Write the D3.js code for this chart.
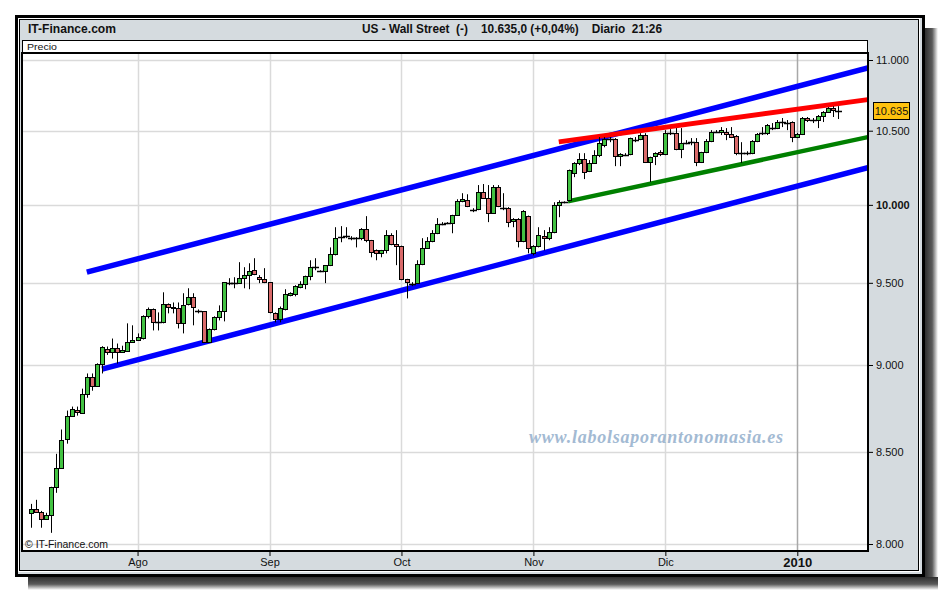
<!DOCTYPE html>
<html><head><meta charset="utf-8">
<script src="https://cdn.jsdelivr.net/npm/d3@7"></script>
<style>body{margin:0;background:#fff} svg{display:block}</style>
</head><body><svg id="c" width="940" height="590"></svg>
<script>
// ---- data ----
const opens  = [8166,8187,8171,8134,8155,8307,8412,8574,8705,8740,8723,8832,8932,8879,9008,9097,9079,9103,9079,9085,
  9140,9152,9159,9293,9335,9256,9256,9366,9353,9341,9250,9366,9410,9323,9323,9140,9213,9286,9323,9504,
  9504,9498,9529,9548,9579,9535,9523,9504,9311,9274,9335,9422,9428,9473,9491,9541,9598,9573,9573,9611,
  9680,9790,9796,9783,9786,9783,9841,9770,9705,9686,9705,9803,9744,9731,9523,9491,9498,9617,9718,9764,
  9815,9874,9880,9880,9933,10023,10030,9965,9971,10084,10044,9946,10117,9978,9978,9893,9906,9764,9926,9686,
  9731,9796,9783,9822,9998,10017,10030,10211,10279,10306,10225,10279,10332,10400,10442,10442,10326,10332,10339,10435,
  10442,10470,10285,10326,10352,10339,10484,10484,10373,10414,10421,10421,10285,10352,10428,10490,10490,10490,10477,10463,
  10346,10346,10346,10428,10484,10484,10518,10518,10560,10560,10560,10456,10477,10588,10574,10574,10602,10630,10657,10643];
const highs  = [8214,8236,8176,8166,8307,8489,8626,8734,8757,8757,8861,8950,8950,9010,9112,9110,9158,9128,9115,9250,
  9238,9189,9299,9347,9341,9317,9441,9372,9378,9378,9435,9466,9435,9335,9325,9219,9293,9360,9505,9529,
  9535,9630,9598,9623,9655,9548,9592,9505,9317,9353,9460,9441,9485,9510,9545,9642,9655,9579,9612,9724,
  9854,9861,9854,9796,9790,9848,9926,9772,9711,9708,9835,9815,9835,9735,9525,9504,9642,9783,9790,9835,
  9913,9887,9887,9935,10037,10077,10070,9978,10131,10138,10131,10131,10131,10077,9985,9913,9913,9965,9930,9738,
  9854,9835,9854,10017,10030,10023,10235,10285,10346,10346,10299,10366,10456,10456,10456,10449,10346,10346,10452,10456,
  10483,10483,10322,10352,10366,10504,10511,10518,10518,10435,10449,10449,10355,10442,10504,10504,10525,10518,10525,10470,
  10421,10359,10435,10484,10525,10546,10553,10574,10588,10574,10565,10484,10595,10595,10588,10609,10636,10664,10671,10671];
const lows   = [8086,8166,8086,8129,8059,8274,8410,8546,8700,8705,8720,8808,8849,8875,8950,9060,9038,9008,9073,9080,
  9134,9146,9152,9280,9207,9207,9250,9311,9311,9219,9189,9360,9238,9311,9135,9134,9207,9268,9262,9485,
  9466,9495,9466,9460,9548,9498,9498,9311,9256,9256,9329,9416,9416,9466,9460,9516,9579,9567,9498,9605,
  9673,9757,9783,9770,9724,9770,9757,9661,9642,9661,9686,9738,9611,9516,9403,9479,9495,9611,9715,9757,
  9809,9867,9874,9815,9930,10017,9985,9952,9965,10040,9887,9940,9985,9965,9854,9854,9724,9757,9686,9673,
  9724,9705,9770,9815,9919,10010,10023,10184,10265,10171,10218,10275,10319,10386,10421,10258,10258,10326,10332,10421,
  10435,10279,10151,10265,10326,10332,10470,10366,10312,10407,10400,10258,10279,10346,10421,10484,10470,10435,10449,10332,
  10279,10332,10339,10421,10470,10470,10504,10511,10525,10504,10421,10449,10470,10560,10553,10518,10560,10623,10595,10581];
const closes = [8187,8171,8134,8155,8307,8412,8569,8705,8745,8728,8832,8932,8879,9008,9110,9079,9103,9079,9091,9140,
  9152,9165,9293,9335,9256,9256,9366,9353,9341,9250,9360,9410,9347,9323,9140,9213,9286,9323,9504,9498,
  9498,9529,9548,9573,9554,9523,9504,9317,9274,9341,9428,9435,9479,9491,9541,9598,9598,9573,9611,9680,
  9783,9790,9796,9783,9780,9841,9770,9692,9686,9705,9803,9744,9731,9523,9504,9491,9617,9718,9764,9815,
  9874,9880,9880,9933,10023,10037,9991,9965,10084,10044,9946,10117,9991,9978,9887,9906,9764,9958,9718,9731,
  9803,9783,9822,9998,10017,10017,10232,10279,10306,10218,10279,10332,10414,10442,10442,10326,10339,10339,10449,10435,
  10470,10285,10319,10346,10339,10484,10484,10373,10414,10421,10421,10285,10352,10428,10490,10490,10504,10477,10456,10346,
  10346,10346,10428,10477,10484,10539,10518,10560,10560,10553,10456,10477,10588,10574,10574,10602,10630,10657,10643,10635];
const yTicks = [8000, 8500, 9000, 9500, 10000, 10500, 11000];
const monthIdx = [21, 47, 73, 99, 125, 151];
const monthLabels = ["Ago", "Sep", "Oct", "Nov", "Dic", "2010"];
const upperChannel = [[11.0, 9567], [164.9, 10942]];
const lowerChannel = [[14.0, 8976], [164.9, 10248]];
const resistance   = [[104.0, 10423], [164.9, 10717]];
const support      = [[105.8, 10023], [164.9, 10456]];
const lastPrice = 10635;
const headerLeft = "IT-Finance.com";
const headerTitle = "US - Wall Street  (-)    10.635,0 (+0,04%)    Diario  21:26";

// ---- drawing ----
const svg = d3.select("#c");
const P = {l: 22, r: 868, t: 53, b: 551};
const x = d3.scaleLinear().domain([-1.77, 164.93]).range([P.l, P.r]);
const y = d3.scaleLog().domain([8000, 11000]).range([544, 60]);
const loc = d3.formatLocale({decimal: ",", thousands: ".", grouping: [3], currency: ["", ""]});
const fmt = loc.format(",.0f");
const sans = "'Liberation Sans',Arial,sans-serif";

const defs = svg.append("defs");
const gr = defs.append("linearGradient").attr("id", "shR").attr("x1", 0).attr("x2", 1).attr("y1", 0).attr("y2", 0);
gr.append("stop").attr("offset", 0).attr("stop-color", "#2e2e2e");
gr.append("stop").attr("offset", 0.55).attr("stop-color", "#5a5a5a");
gr.append("stop").attr("offset", 1).attr("stop-color", "#ffffff");
const gb = defs.append("linearGradient").attr("id", "shB").attr("x1", 0).attr("x2", 0).attr("y1", 0).attr("y2", 1);
gb.append("stop").attr("offset", 0).attr("stop-color", "#2e2e2e");
gb.append("stop").attr("offset", 0.55).attr("stop-color", "#5a5a5a");
gb.append("stop").attr("offset", 1).attr("stop-color", "#ffffff");
defs.append("clipPath").attr("id", "clip").append("rect")
  .attr("x", P.l).attr("y", P.t).attr("width", P.r - P.l).attr("height", P.b - P.t);

// shadow
svg.append("rect").attr("x", 925).attr("y", 28).attr("width", 13).attr("height", 562).attr("fill", "url(#shR)");
svg.append("rect").attr("x", 28).attr("y", 577).attr("width", 910).attr("height", 13).attr("fill", "url(#shB)");
// panel
svg.append("rect").attr("x", 16.5).attr("y", 16.5).attr("width", 907).attr("height", 559)
  .attr("fill", "#d5dbdf").attr("stroke", "#000").attr("stroke-width", 3);
svg.append("rect").attr("x", 18.5).attr("y", 18.5).attr("width", 901).attr("height", 553)
  .attr("fill", "none").attr("stroke", "#fff").attr("stroke-width", 1);
svg.append("rect").attr("x", 19.5).attr("y", 19.5).attr("width", 899).attr("height", 551)
  .attr("fill", "none").attr("stroke", "#000").attr("stroke-width", 1);

// header (condensed to match the narrow face of the original)
svg.append("text").attr("x", 28).attr("y", 33).attr("font-family", sans).attr("font-size", 13)
  .attr("font-weight", "bold").attr("fill", "#111")
  .attr("textLength", 88).attr("lengthAdjust", "spacingAndGlyphs").text(headerLeft);
svg.append("text").attr("x", 362).attr("y", 33).attr("font-family", sans).attr("font-size", 13)
  .attr("font-weight", "bold").attr("fill", "#111").attr("xml:space", "preserve")
  .style("white-space", "pre").attr("textLength", 300).attr("lengthAdjust", "spacingAndGlyphs").text(headerTitle);

// Precio band
svg.append("rect").attr("x", 22.5).attr("y", 40.5).attr("width", 845).attr("height", 12)
  .attr("fill", "#fff").attr("stroke", "#000");
svg.append("text").attr("x", 27).attr("y", 50).attr("font-family", sans).attr("font-size", 9.5)
  .attr("fill", "#111").attr("textLength", 30).attr("lengthAdjust", "spacingAndGlyphs").text("Precio");

// plot bg
svg.append("rect").attr("x", P.l).attr("y", P.t).attr("width", P.r - P.l).attr("height", P.b - P.t).attr("fill", "#fff");

// grid
const grid = svg.append("g").attr("clip-path", "url(#clip)");
grid.selectAll("line.h").data(yTicks).join("line")
  .attr("x1", P.l).attr("x2", P.r).attr("y1", d => Math.round(y(d)) + 0.5).attr("y2", d => Math.round(y(d)) + 0.5)
  .attr("stroke", "#dadada").attr("stroke-width", 1.5);
grid.selectAll("line.v").data(monthIdx).join("line")
  .attr("y1", P.t).attr("y2", P.b).attr("x1", d => Math.round(x(d)) + 0.5).attr("x2", d => Math.round(x(d)) + 0.5)
  .attr("stroke", (d, i) => monthLabels[i] === "2010" ? "#a8a8a8" : "#dadada").attr("stroke-width", 1.5);

// watermark
svg.append("text").attr("x", 529).attr("y", 443)
  .attr("font-family", "'Liberation Serif','Times New Roman',serif").attr("font-style", "italic")
  .attr("font-weight", "bold").attr("font-size", 18).attr("fill", "#a3bad3")
  .attr("textLength", 254).attr("lengthAdjust", "spacing")
  .text("www.labolsaporantonomasia.es");

// trend lines
const tl = svg.append("g").attr("clip-path", "url(#clip)");
const lineGen = d3.line().x(d => x(d[0])).y(d => y(d[1]));
[[upperChannel, "#0000ff", 5.5], [lowerChannel, "#0000ff", 5.5], [resistance, "#ff0000", 5], [support, "#008000", 4.5]]
  .forEach(([pts, col, w]) => tl.append("path").attr("d", lineGen(pts)).attr("stroke", col)
    .attr("stroke-width", w).attr("fill", "none"));

// candles
const cg = svg.append("g").attr("clip-path", "url(#clip)");
opens.forEach((o, i) => {
  const c = closes[i], h = highs[i], l = lows[i];
  const cx = Math.round(x(i));
  cg.append("line").attr("x1", cx + 0.5).attr("x2", cx + 0.5).attr("y1", y(h)).attr("y2", y(l))
    .attr("stroke", "#000").attr("stroke-width", 1);
  const yo = y(o), yc = y(c);
  if (Math.abs(yo - yc) < 1.5) {
    const yy = Math.round((yo + yc) / 2) + 0.5;
    cg.append("line").attr("x1", cx - 3).attr("x2", cx + 4).attr("y1", yy).attr("y2", yy)
      .attr("stroke", "#000").attr("stroke-width", 1.5);
  } else {
    const top = Math.round(Math.min(yo, yc)) + 0.5, bot = Math.round(Math.max(yo, yc)) + 0.5;
    cg.append("rect").attr("x", cx - 1.5).attr("y", top).attr("width", 4).attr("height", bot - top)
      .attr("fill", c >= o ? "#42c242" : "#d96a6a").attr("stroke", "#000").attr("stroke-width", 1);
  }
});

// plot frame
svg.append("rect").attr("x", P.l).attr("y", P.t).attr("width", P.r - P.l).attr("height", P.b - P.t)
  .attr("fill", "none").attr("stroke", "#000").attr("stroke-width", 2);

// copyright
svg.append("text").attr("x", 25).attr("y", 548).attr("font-family", sans)
  .attr("font-size", 10.5).attr("fill", "#111").text("\u00A9 IT-Finance.com");

// y axis
const ya = svg.append("g").attr("transform", `translate(${P.r},0)`)
  .call(d3.axisRight(y).tickValues(yTicks).tickFormat(fmt).tickSize(5).tickPadding(3));
ya.select(".domain").remove();
ya.selectAll("text").attr("font-family", sans).attr("font-size", 11)
  .attr("fill", "#111").attr("font-weight", d => d === 10000 ? "bold" : "normal");

// x axis
const xa = svg.append("g").attr("transform", `translate(0,${P.b})`)
  .call(d3.axisBottom(x).tickValues(monthIdx).tickFormat((d, i) => monthLabels[i]).tickSize(5).tickPadding(2));
xa.select(".domain").remove();
xa.selectAll("text").attr("font-family", sans).attr("fill", "#111")
  .attr("font-size", (d, i) => monthLabels[i] === "2010" ? 13 : 11)
  .attr("font-weight", (d, i) => monthLabels[i] === "2010" ? "bold" : "normal");

// last price label
const lp = y(lastPrice);
svg.append("rect").attr("x", 873.5).attr("y", Math.round(lp) - 8.5).attr("width", 36).attr("height", 17)
  .attr("fill", "#ffc20e").attr("stroke", "#000");
svg.append("text").attr("x", 891.5).attr("y", lp + 4).attr("text-anchor", "middle")
  .attr("font-family", sans).attr("font-size", 11).attr("fill", "#111")
  .text(fmt(lastPrice));
</script></body></html>
